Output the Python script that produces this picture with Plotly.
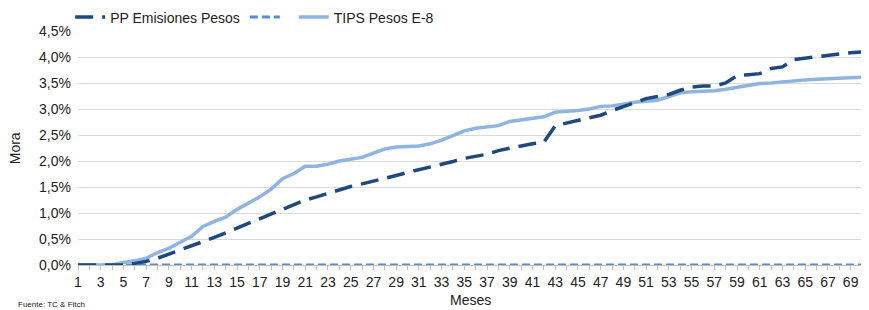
import plotly.graph_objects as go

months = list(range(1, 71))

pp_emisiones = [0, 0, 0, 0, 0, 0.03, 0.07, 0.13, 0.21, 0.29,
                0.36, 0.44, 0.53, 0.62, 0.71, 0.80, 0.89, 0.98, 1.08, 1.17,
                1.25, 1.31, 1.38, 1.44, 1.51, 1.56, 1.61, 1.67, 1.72, 1.78,
                1.83, 1.88, 1.94, 1.99, 2.05, 2.09, 2.13, 2.20, 2.25, 2.29,
                2.33, 2.36, 2.68, 2.73, 2.78, 2.82, 2.88, 2.97, 3.05, 3.12,
                3.20, 3.24, 3.28, 3.36, 3.42, 3.44, 3.44, 3.50, 3.64, 3.66,
                3.68, 3.78, 3.81, 3.95, 3.98, 4.00, 4.03, 4.06, 4.08, 4.10]

serie_2 = [0] * 70

tips_e8 = [0, 0, 0, 0, 0.05, 0.08, 0.13, 0.24, 0.32, 0.44,
           0.55, 0.74, 0.84, 0.92, 1.07, 1.19, 1.31, 1.46, 1.66, 1.76,
           1.90, 1.90, 1.94, 2.00, 2.04, 2.07, 2.15, 2.23, 2.27, 2.28,
           2.29, 2.33, 2.40, 2.49, 2.58, 2.63, 2.66, 2.68, 2.76, 2.79,
           2.82, 2.85, 2.94, 2.95, 2.97, 3.00, 3.05, 3.06, 3.10, 3.13,
           3.15, 3.17, 3.24, 3.31, 3.33, 3.34, 3.35, 3.38, 3.42, 3.45,
           3.49, 3.50, 3.52, 3.55, 3.56, 3.57, 3.58, 3.59, 3.59, 3.61]

y_ticks = [0, 0.5, 1.0, 1.5, 2.0, 2.5, 3.0, 3.5, 4.0, 4.5]
y_labels = ["0,0%", "0,5%", "1,0%", "1,5%", "2,0%", "2,5%", "3,0%", "3,5%", "4,0%", "4,5%"]
x_labels = [str(m) if m % 2 == 1 else "" for m in months]

TXT = "#222222"
FS = 14

fig = go.Figure()
fig.add_trace(go.Scatter(x=months, y=serie_2, mode="lines", name=" ",
                         line=dict(color="#558ED5", width=3, dash="8px,4px"),
                         legendrank=2))
fig.add_trace(go.Scatter(x=months, y=tips_e8, mode="lines", name="TIPS Pesos E-8",
                         line=dict(color="#8DB4E2", width=3.5),
                         legendrank=3))
fig.add_trace(go.Scatter(x=months, y=pp_emisiones, mode="lines", name="PP Emisiones Pesos",
                         line=dict(color="#1F497D", width=3.5, dash="18px,9px"),
                         legendrank=1))

fig.update_layout(
    width=861, height=302,
    margin=dict(l=70, r=7, t=23, b=45, autoexpand=False),
    paper_bgcolor="white", plot_bgcolor="white",
    font=dict(family="Liberation Sans, Arial, sans-serif", size=FS, color=TXT),
    showlegend=True,
    legend=dict(orientation="h", x=-0.01, y=1.126, xref="paper", yref="paper",
                xanchor="left", yanchor="top", font=dict(size=FS, color=TXT),
                itemwidth=30, tracegroupgap=0, bgcolor="rgba(0,0,0,0)"),
    xaxis=dict(range=[1, 70], tickmode="array", tickvals=months, ticktext=x_labels,
               ticks="outside", ticklen=4, tickcolor="#BFBFBF", showgrid=False,
               showline=True, linecolor="#BFBFBF", linewidth=1, zeroline=False,
               tickangle=0, automargin=False, tickfont=dict(size=FS, color=TXT)),
    yaxis=dict(range=[0, 4.5], tickmode="array", tickvals=y_ticks, ticktext=y_labels,
               showgrid=True, gridcolor="#D9D9D9", gridwidth=1, zeroline=False,
               showline=False, ticks="", automargin=False, ticklabelstandoff=6,
               tickfont=dict(size=FS, color=TXT)),
)

fig.add_annotation(text="Meses", xref="paper", yref="paper", x=0.5, y=-0.15,
                   xanchor="center", yanchor="middle", showarrow=False,
                   font=dict(size=FS, color=TXT))
fig.add_annotation(text="Mora", xref="paper", yref="paper", x=-0.08, y=0.5,
                   xanchor="center", yanchor="middle", textangle=-90, showarrow=False,
                   font=dict(size=FS, color=TXT))
fig.add_annotation(text="Fuente: TC & Fitch", xref="paper", yref="paper",
                   x=-0.078, y=-0.192, xanchor="left", yanchor="bottom", showarrow=False,
                   font=dict(size=8, color=TXT), borderpad=0)

fig.write_html("out.html")
